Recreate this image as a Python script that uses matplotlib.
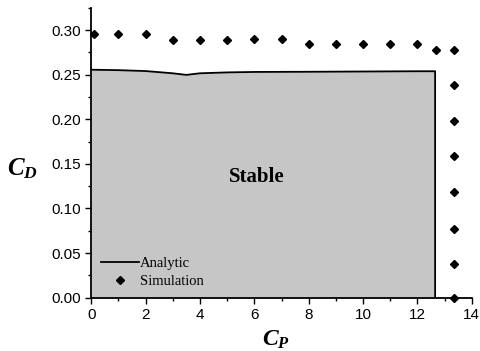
import numpy as np
import matplotlib
matplotlib.use('Agg')
import matplotlib.pyplot as plt
from matplotlib.ticker import MultipleLocator

plt.rcParams['mathtext.fontset'] = 'custom'
plt.rcParams['mathtext.it'] = 'Liberation Serif:italic:bold'
plt.rcParams['mathtext.rm'] = 'Liberation Serif:bold'

# analytic stability boundary (upper edge, then vertical drop)
cp_analytic = [0.0, 1.0, 2.0, 3.0, 3.5, 4.0, 5.0, 6.0, 8.0, 10.0, 12.0, 12.65, 12.65]
cd_analytic = [0.2555, 0.255, 0.254, 0.2515, 0.2497, 0.2515, 0.2525, 0.253, 0.2532, 0.2535, 0.2538, 0.2538, 0.0]

# simulation points
cp_sim = [0.1, 1, 2, 3, 4, 5, 6, 7, 8, 9, 10, 11, 12, 12.7,
          13.35, 13.35, 13.35, 13.35, 13.35, 13.35, 13.35, 13.35]
cd_sim = [0.2955, 0.2955, 0.295, 0.289, 0.289, 0.289, 0.2895, 0.2895, 0.284, 0.284, 0.284, 0.284, 0.284, 0.278,
          0.278, 0.238, 0.198, 0.1585, 0.118, 0.0775, 0.0375, 0.0]

fig = plt.figure(figsize=(4.8, 3.51), dpi=100)
ax = fig.add_axes([0.19, 0.152, 0.793, 0.826])

ax.fill_between(cp_analytic, cd_analytic, 0, color='#c6c6c6', lw=0)
ax.plot(cp_analytic, cd_analytic, color='black', lw=1.3, label='Analytic')
ax.plot(cp_sim, cd_sim, 'D', color='black', ms=4, ls='none', clip_on=False, label='Simulation')

ax.set_xlim(0, 14)
ax.set_ylim(0, 0.325)
ax.spines['top'].set_visible(False)
ax.spines['right'].set_visible(False)
ax.spines['left'].set_linewidth(1.3)
ax.spines['bottom'].set_linewidth(1.3)
ax.xaxis.set_major_locator(MultipleLocator(2))
ax.xaxis.set_minor_locator(MultipleLocator(1))
ax.yaxis.set_major_locator(MultipleLocator(0.05))
ax.yaxis.set_minor_locator(MultipleLocator(0.025))
ax.yaxis.set_major_formatter(matplotlib.ticker.FormatStrFormatter('%.2f'))
ax.tick_params(which='major', direction='out', length=4, width=1, labelsize=11)
ax.tick_params(which='minor', direction='out', length=2.5, width=1)
for lab in ax.get_xticklabels() + ax.get_yticklabels():
    lab.set_family('Liberation Sans')

fig.text(22 / 480, 1 - 169 / 351, r'$C_D$', fontsize=18, ha='center', va='center')
fig.text(276 / 480, 1 - 339 / 351, r'$C_P$', fontsize=17, ha='center', va='center')
ax.text(6.1, 0.135, 'Stable', fontsize=15, fontweight='bold', family='Liberation Serif',
        ha='center', va='center')

ax.legend(loc='lower left', frameon=False, prop={'family': 'Liberation Serif', 'size': 10.5},
          handlelength=2.6, handletextpad=0.1, labelspacing=0.35, borderaxespad=0.25)

fig.savefig('out.png', dpi=100)
